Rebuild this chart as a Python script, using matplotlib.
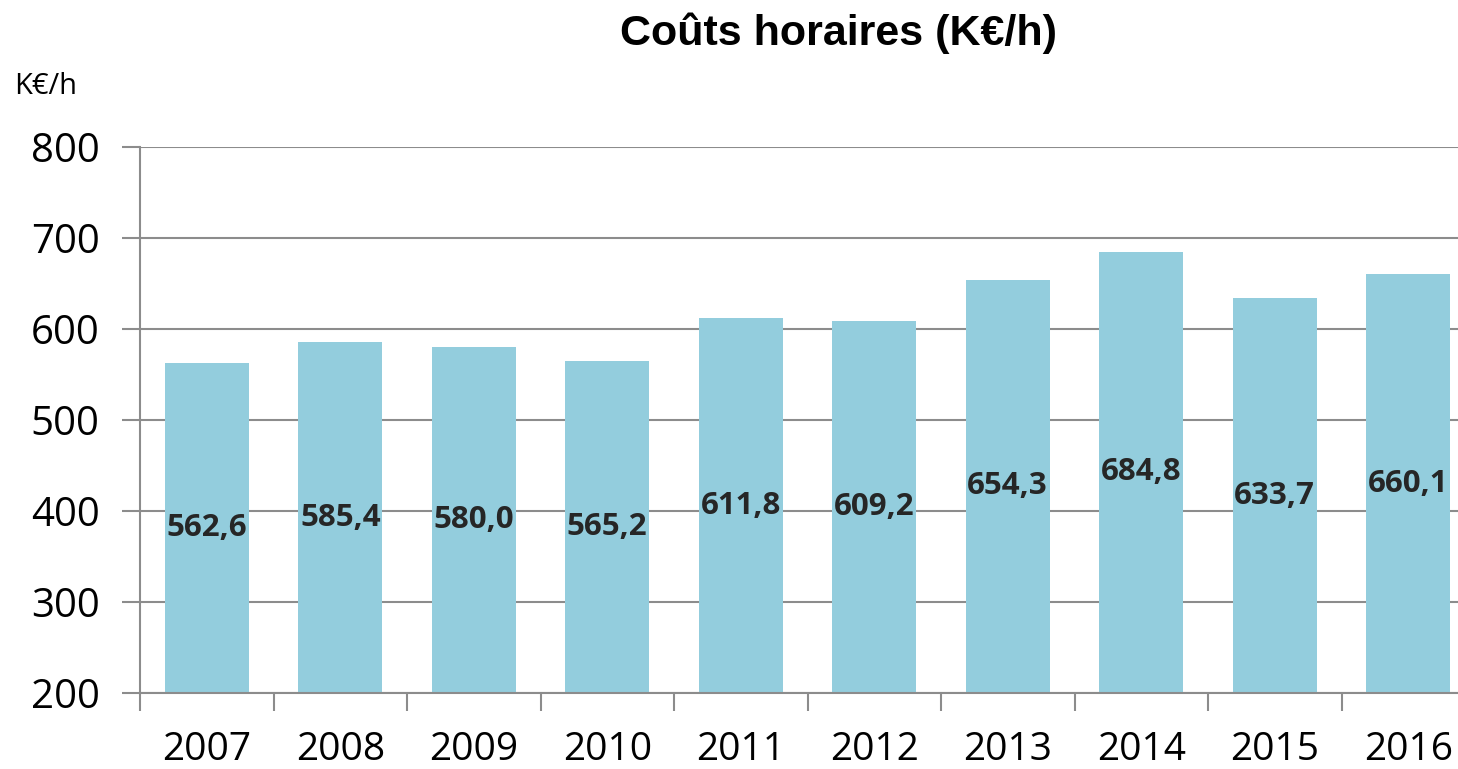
import matplotlib
matplotlib.use("Agg")
import matplotlib.pyplot as plt
import numpy as np

years = ["2007", "2008", "2009", "2010", "2011", "2012", "2013", "2014", "2015", "2016"]
values = [562.6, 585.4, 580.0, 565.2, 611.8, 609.2, 654.3, 684.8, 633.7, 660.1]
yticks = [200, 300, 400, 500, 600, 700, 800]

fig = plt.figure(figsize=(14.58, 7.69), dpi=100)
ax = fig.add_axes([140/1458, 1-693/769, 1335/1458, (693-147)/769])

x = np.arange(len(years))
grid_c = "#8c8c8c"
ax.bar(x, [v - 200 for v in values], bottom=200, width=0.63, color="#93CDDD", zorder=2)
ax.set_xlim(-0.5, len(years) - 0.5)
ax.set_ylim(200, 800)
ax.set_yticks(yticks)
ax.set_yticklabels([str(t) for t in yticks], fontsize=29, family="Open Sans")
ax.yaxis.grid(True, color=grid_c, linewidth=1.5, zorder=0)
ax.tick_params(axis="y", length=13, width=1.5, color=grid_c, pad=16)

ax.set_xticks(x)
ax.set_xticklabels(years, fontsize=28, family="Open Sans")
ax.tick_params(axis="x", length=0, pad=27)
ax.set_xticks(np.arange(-0.5, len(years), 1.0), minor=True)
ax.tick_params(axis="x", which="minor", length=13, width=1.5, color=grid_c)

for s in ["top", "right"]:
    ax.spines[s].set_visible(False)
for s in ["left", "bottom"]:
    ax.spines[s].set_color(grid_c)
    ax.spines[s].set_linewidth(1.5)

for xi, v in zip(x, values):
    ax.text(xi, (200 + v) / 2, f"{v:.1f}".replace(".", ","), ha="center", va="center",
            fontsize=22.5, fontweight="bold", color="#262626", family="Open Sans", zorder=3)

fig.text(838/1458, 1-33/769, "Coûts horaires (K€/h)", ha="center", va="center",
         fontsize=31, fontweight="bold", family="Liberation Sans")
fig.text(14/1458, 1-87/769, "K€/h", ha="left", va="center", fontsize=21, family="Open Sans")

fig.savefig("out.png", dpi=100)
